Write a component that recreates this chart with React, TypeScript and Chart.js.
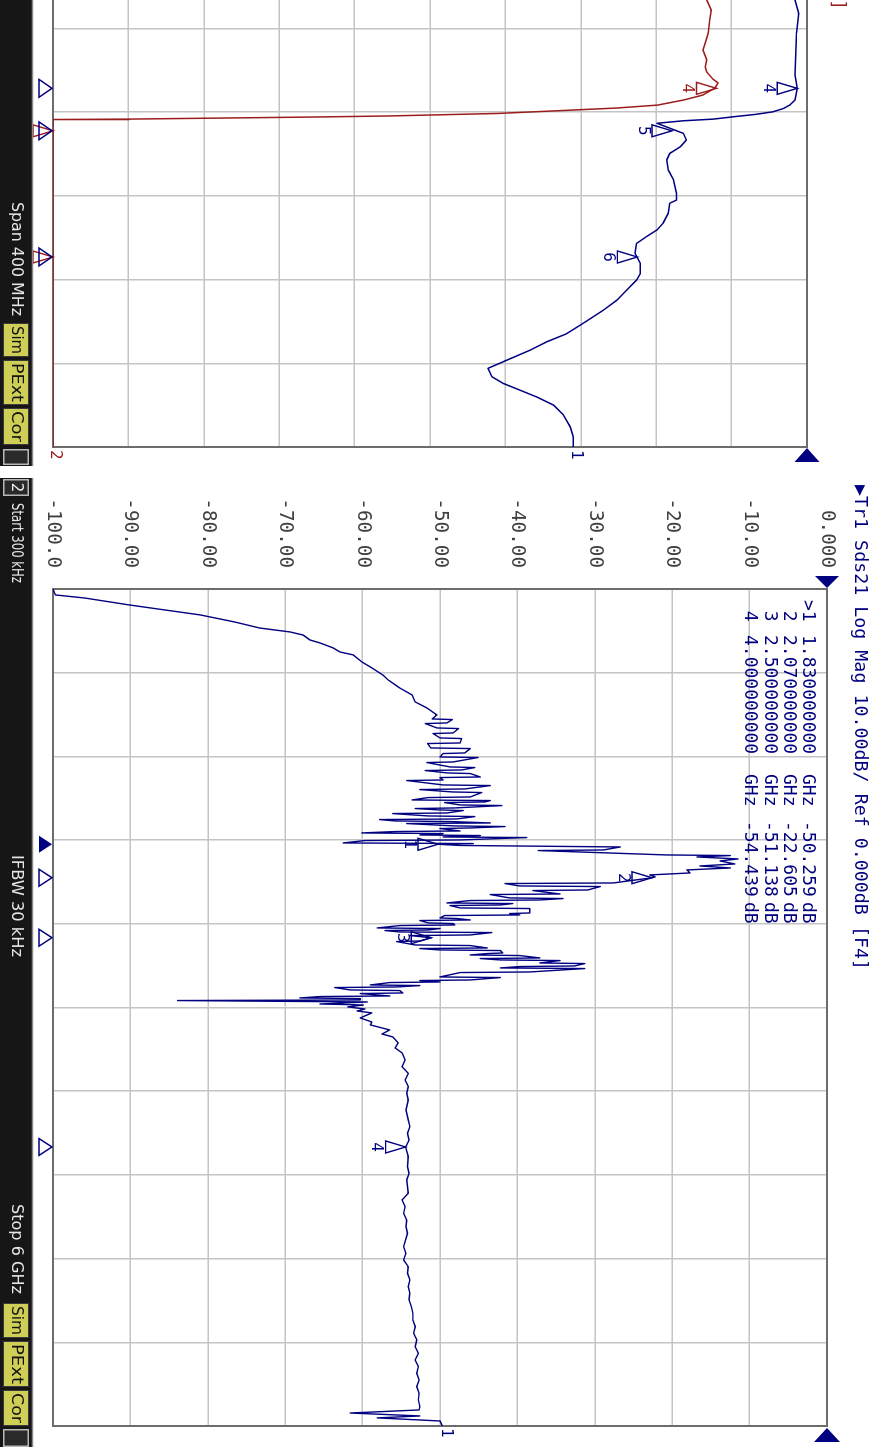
import React, { useEffect, useRef } from 'react';
import { Chart, registerables } from 'chart.js';
Chart.register(...registerables);

const MONO = "'DejaVu Sans Mono', monospace";
const SANS = "'DejaVu Sans', sans-serif";
const NAVY = '#000080';
const RED = '#9b1c1c';
const GRID = '#c4c4c4';
const FRAME = '#6c6c6c';

// ---------- main window: Tr1 Sds21, 300 kHz .. 6 GHz ----------
const mainStartGHz = 0.0003;
const mainStopGHz = 6;
const mainFreqGHz = [
  0.0003, 0.043, 0.065, 0.115, 0.151, 0.186, 0.237, 0.280, 0.308, 0.330, 0.366, 0.387, 0.423, 0.452, 0.473, 0.523, 0.566, 0.616, 0.652, 0.710, 0.760, 0.810, 0.853, 0.903,
  0.9319, 0.9362, 0.9605, 0.9648, 0.9964, 1.0007, 1.0322, 1.0365, 1.0680, 1.0723, 1.1039, 1.1082, 1.1397, 1.1440, 1.1756, 1.1799, 1.2042, 1.2085, 1.2401, 1.2444,
  1.2759, 1.2802, 1.2974, 1.3017, 1.3189, 1.3232, 1.3476, 1.3519, 1.3691, 1.3734, 1.4049, 1.4092, 1.4336, 1.4379, 1.4551, 1.4594, 1.4910, 1.4953, 1.5125, 1.5168,
  1.5268, 1.5311, 1.5483, 1.5526, 1.5698, 1.5741, 1.5842, 1.5885, 1.6057, 1.6100, 1.6272, 1.6315, 1.6487, 1.6530, 1.6630, 1.6673, 1.6773, 1.6816, 1.6988, 1.7031,
  1.7132, 1.7175, 1.7347, 1.7390, 1.7490, 1.7533, 1.7634, 1.7677, 1.7777, 1.7820, 1.7992, 1.8035, 1.8207, 1.8250, 1.830,
  1.8386, 1.8494, 1.8709, 1.8752, 1.9067, 1.9110, 1.9211, 1.9354, 1.9497, 1.9712, 1.9856, 1.9999, 2.0142, 2.0357, 2.0500, 2.0644, 2.070,
  2.1074, 2.1117, 2.1289, 2.1332, 2.1576, 2.1619, 2.1863, 2.1906, 2.2149, 2.2192, 2.2293, 2.2336, 2.2508, 2.2551, 2.2651, 2.2694, 2.2866, 2.2909, 2.3225, 2.3268,
  2.3368, 2.3411, 2.3583, 2.3626, 2.3726, 2.3769, 2.3941, 2.3984, 2.4085, 2.4128, 2.4300, 2.4343, 2.4443, 2.4486, 2.4587, 2.4630, 2.4802, 2.4845, 2.500,
  2.5232, 2.5275, 2.5518, 2.5561, 2.5733, 2.5776, 2.5877, 2.5920, 2.6092, 2.6135, 2.6235, 2.6278, 2.6450, 2.6493, 2.6594, 2.6637, 2.6809, 2.6852, 2.7024, 2.7067, 2.7167, 2.7210,
  2.7454, 2.7497, 2.7812, 2.7855, 2.8027, 2.8070, 2.8171, 2.8214, 2.8386, 2.8429, 2.8529, 2.8572, 2.8744, 2.8787, 2.8959, 2.9002, 2.9174, 2.9217, 2.9318, 2.9361, 2.9461, 2.9504,
  2.9604, 2.975, 2.982, 2.996, 3.011, 3.025, 3.039, 3.075, 3.104, 3.125, 3.161, 3.190, 3.211, 3.254, 3.290, 3.326,
  3.376, 3.424, 3.472, 3.520, 3.568, 3.615, 3.663, 3.735, 3.806, 3.854, 3.902, 3.950, 4.000, 4.069, 4.141, 4.188, 4.236, 4.332, 4.380, 4.428, 4.475, 4.523, 4.571, 4.619, 4.714, 4.762, 4.810, 4.858, 4.905, 4.953,
  5.001, 5.049, 5.097, 5.145, 5.192, 5.240, 5.288, 5.335, 5.383, 5.431, 5.479, 5.527, 5.574, 5.622, 5.670, 5.718, 5.766, 5.813, 5.861, 5.885, 5.907, 5.928, 5.942, 5.964, 6.000,
];
const mainDb = [
  -100, -99.7, -95.9, -90.1, -85.5, -81.0, -76.5, -73.3, -69.4, -67.7, -66.8, -65.5, -63.8, -62.9, -61.2, -60.1, -58.8, -57.4, -56.7, -55.2, -53.6, -53.2, -51.7, -50.4,
  -51.0, -48.4, -49.1, -51.9, -50.4, -47.6, -48.3, -50.9, -50.0, -47.2, -47.4, -51.6, -51.2, -46.1, -46.8, -49.6, -50.0, -45.1, -48.3, -51.7,
  -48.7, -45.5, -47.2, -51.9, -49.0, -46.1, -44.8, -50.0, -49.6, -54.3, -49.6, -43.5, -46.8, -52.6, -48.4, -44.6, -46.1, -51.5, -53.6, -43.5,
  -44.2, -49.4, -47.4, -42.0, -48.1, -53.2, -50.0, -47.0, -49.1, -56.1, -51.5, -45.5, -47.8, -57.8, -55.8, -48.7, -43.5, -54.3, -48.1, -41.6,
  -46.1, -50.0, -47.4, -55.8, -60.1, -49.6, -52.6, -44.8, -49.6, -38.8, -47.4, -59.7, -62.5, -45.7, -50.259,
  -47.4, -26.7, -28.9, -37.3, -20.7, -12.5, -16.8, -11.5, -13.8, -11.9, -16.4, -12.5, -18.1, -17.7, -22.9, -22.2, -22.605,
  -27.6, -41.6, -39.7, -29.3, -30.9, -38.0, -34.5, -43.5, -41.0, -34.1, -37.1, -46.1, -49.1, -40.6, -42.2, -48.7, -47.4, -38.4, -38.4, -41.0,
  -39.7, -49.4, -50.0, -47.8, -46.1, -52.6, -51.5, -48.3, -48.1, -55.2, -58.1, -50.0, -51.5, -57.1, -55.2, -43.3, -46.1, -53.9, -51.138,
  -52.6, -55.6, -53.2, -46.1, -43.9, -52.6, -50.0, -42.2, -41.9, -43.9, -46.1, -39.7, -37.1, -44.8, -42.2, -34.5, -37.1, -31.3, -32.6, -39.7, -42.2, -31.3,
  -38.4, -47.4, -50.0, -42.2, -46.1, -52.6, -50.0, -56.5, -59.0, -52.6, -55.6, -63.6, -61.6, -55.2, -54.8, -60.3, -56.5, -65.5, -68.1, -60.3, -60.3, -83.9,
  -59.4, -65.5, -59.9, -61.9, -59.7, -60.7, -58.8, -60.3, -58.8, -59.0, -56.5, -57.5, -56.1, -55.4, -55.8, -54.9,
  -54.5, -54.9, -54.1, -54.5, -54.1, -54.3, -54.1, -54.4, -54.1, -53.9, -54.2, -54.0, -54.439, -54.1, -54.2, -54.0, -54.3, -54.1, -54.9, -54.5, -54.7, -54.3, -54.4, -54.2, -54.7, -54.4, -54.7, -54.1, -54.2, -53.9,
  -54.1, -53.9, -54.0, -53.7, -53.5, -53.5, -53.2, -53.4, -53.0, -53.2, -52.8, -53.2, -52.8, -53.0, -52.7, -53.0, -52.7, -52.8, -52.6, -52.7, -61.6, -52.6, -58.1, -50.0, -49.7,
];
const mainMarkerId = ['1', '2', '3', '4'];
const mainMarkerGHz = [1.83, 2.07, 2.5, 4.0];
const mainMarkerDb = [-50.259, -22.605, -51.138, -54.439];
const mainMarkerFreqText = ['1.830000000', '2.070000000', '2.500000000', '4.000000000'];
const mainMarkerDbText = ['-50.259', '-22.605', '-51.138', '-54.439'];
const mainTitle = '\u25B6Tr1 Sds21 Log Mag 10.00dB/ Ref 0.000dB [F4]';

const dbTicks = [0, -10, -20, -30, -40, -50, -60, -70, -80, -90, -100];
const dbTickLabels = ['0.000', '-10.00', '-20.00', '-30.00', '-40.00', '-50.00', '-60.00', '-70.00', '-80.00', '-90.00', '-100.0'];

// ---------- upper window (partly visible): span 400 MHz ----------
const topStartMHz = 1800;
const topStopMHz = 2200;
const topBlueMHz = [1975, 1986.4, 1992.8, 2002.3, 2022.2, 2028.6, 2034.2, 2036.6, 2038.2, 2039.8, 2041.0, 2042.2, 2043.3, 2044.1, 2045.3, 2050.1, 2053.3, 2056.5, 2059.7, 2062.8, 2067.6, 2072.4, 2078.8, 2082.0, 2083.5, 2088.3, 2093.1, 2096.3, 2099.5, 2102.7, 2107.5, 2112.3, 2117.1, 2120.2, 2125.0, 2129.8, 2134.6, 2140.9, 2145.9, 2149.7, 2153.7, 2158.5, 2162.4, 2166.4, 2169.6, 2172.8, 2176.0, 2180.0, 2184.7, 2190.4, 2195.1, 2200];
const topBlueDb = [-1.5, -1.6, -1.1, -1.4, -1.6, -1.3, -1.6, -2.3, -3.1, -4.5, -6.7, -9.8, -12.4, -16.4, -19.9, -16.4, -16.0, -16.8, -18.2, -18.6, -18.4, -17.7, -17.3, -17.3, -18.2, -18.4, -19.1, -19.9, -21.3, -22.6, -22.8, -22.1, -22.1, -22.6, -23.9, -25.2, -27.0, -29.7, -31.9, -34.5, -36.7, -39.8, -42.3, -41.8, -40.3, -38.1, -35.9, -33.6, -32.3, -31.4, -31.0, -31.0];
const topRedMHz = [1975, 1986.4, 1991.2, 1995.9, 2002.2, 2006.9, 2010.3, 2015.0, 2018.4, 2020.8, 2024.1, 2026.0, 2028.4, 2031.8, 2034.2, 2036.6, 2038.0, 2039.0, 2040.6, 2041.8, 2042.3, 2043.3, 2043.5, 2200];
const topRedDb = [-13.0, -13.3, -12.7, -12.9, -13.1, -13.5, -13.8, -13.3, -13.5, -13.3, -12.5, -11.8, -12.2, -13.8, -16.4, -19.8, -25.2, -31.2, -41.0, -55.4, -65.3, -89.9, -100, -100];
const topMarkerId = ['4', '5', '6'];
const topMarkerMHz = [2028.6, 2048.9, 2109.2];
const topBlueMarkerDb = [-1.3, -17.9, -22.5];
const topRedMarkerDb = [-12.0, -100, -100];
const topRedTitle = 'Tr2 S11 Log Mag 10.00dB/ Ref 0.000dB [F4]';

// ---------- drawing helpers ----------
function triangle(ctx: any, tx: number, ty: number, dir: string, len: number, half: number, filled: boolean, color: string, lw = 1.4) {
  ctx.save();
  ctx.beginPath();
  if (dir === 'up') { ctx.moveTo(tx, ty); ctx.lineTo(tx - half, ty + len); ctx.lineTo(tx + half, ty + len); }
  if (dir === 'right') { ctx.moveTo(tx, ty); ctx.lineTo(tx - len, ty - half); ctx.lineTo(tx - len, ty + half); }
  if (dir === 'left') { ctx.moveTo(tx, ty); ctx.lineTo(tx + len, ty - half); ctx.lineTo(tx + len, ty + half); }
  ctx.closePath();
  if (filled) { ctx.fillStyle = color; ctx.fill(); }
  else { ctx.strokeStyle = color; ctx.lineWidth = lw; ctx.lineJoin = 'miter'; ctx.stroke(); }
  ctx.restore();
}

function fitText(ctx: any, text: string, x: number, yMid: number, w: number, font: string, color: string) {
  ctx.save();
  ctx.font = font;
  ctx.fillStyle = color;
  ctx.textBaseline = 'middle';
  ctx.textAlign = 'left';
  const m = ctx.measureText(text).width;
  ctx.translate(x, yMid);
  ctx.scale(w / m, 1);
  ctx.fillText(text, 0, 0);
  ctx.restore();
}

function text(ctx: any, s: string, x: number, y: number, color: string, font: string, align = 'left') {
  ctx.save();
  ctx.font = font;
  ctx.fillStyle = color;
  ctx.textBaseline = 'middle';
  ctx.textAlign = align;
  ctx.fillText(s, x, y);
  ctx.restore();
}

const BAR_TOP = 847;
const BAR_BOTTOM = 879;
function statusBar(ctx: any, x0: number, x1: number, items: any[]) {
  ctx.save();
  ctx.fillStyle = '#161616';
  ctx.fillRect(x0, BAR_TOP, x1 - x0, BAR_BOTTOM - BAR_TOP);
  ctx.strokeStyle = '#8a8a8a';
  ctx.lineWidth = 1.5;
  ctx.beginPath();
  ctx.moveTo(x0, BAR_TOP - 0.5);
  ctx.lineTo(x1, BAR_TOP - 0.5);
  ctx.stroke();
  const mid = (BAR_TOP + BAR_BOTTOM) / 2;
  for (const it of items) {
    if (it.kind === 'text') {
      fitText(ctx, it.text, it.x, mid, it.w, `16px ${SANS}`, '#e6e6e6');
    } else if (it.kind === 'yellow') {
      ctx.fillStyle = '#cfcf57';
      ctx.fillRect(it.x, BAR_TOP + 3, it.w, 26);
      ctx.strokeStyle = '#3a3a3a';
      ctx.lineWidth = 1;
      ctx.strokeRect(it.x + 0.5, BAR_TOP + 3.5, it.w - 1, 25);
      fitText(ctx, it.text, it.x + 3, mid, it.w - 6, `16px ${SANS}`, '#111');
    } else if (it.kind === 'box') {
      ctx.fillStyle = '#2a2a2a';
      ctx.fillRect(it.x, BAR_TOP + 3, it.w, 26);
      ctx.strokeStyle = '#b8b8b8';
      ctx.lineWidth = 1.5;
      ctx.strokeRect(it.x + 0.75, BAR_TOP + 3.75, it.w - 1.5, 24.5);
      if (it.text) text(ctx, it.text, it.x + it.w / 2, mid, '#eeeeee', `15px ${SANS}`, 'center');
    }
  }
  ctx.restore();
}

function drawFrame(chart: any) {
  const { ctx, chartArea: a } = chart;
  ctx.save();
  ctx.strokeStyle = FRAME;
  ctx.lineWidth = 2;
  ctx.strokeRect(a.left, a.top, a.right - a.left, a.bottom - a.top);
  ctx.restore();
}

function traceMarker(ctx: any, px: number, py: number, label: string, color: string) {
  triangle(ctx, px, py, 'up', 20, 6, false, color, 1.4);
  text(ctx, label, px, py + 29, color, `16px ${MONO}`, 'center');
}

function gridScale(min: number, max: number) {
  return (scale: any) => {
    const vals = [];
    for (let i = 0; i <= 10; i++) vals.push({ value: min + ((max - min) * i) / 10 });
    scale.ticks = vals;
  };
}

function baseOptions(xMin: number, xMax: number, yAxisWidth: number, padding: any, showLabels: boolean) {
  return {
    animation: false,
    responsive: false,
    devicePixelRatio: 1,
    layout: { padding },
    plugins: { legend: { display: false }, tooltip: { enabled: false }, title: { display: false } },
    elements: { point: { radius: 0 } },
    scales: {
      x: {
        type: 'linear', min: xMin, max: xMax,
        afterBuildTicks: gridScale(xMin, xMax),
        afterFit: (s: any) => { s.height = 0; },
        ticks: { display: false },
        grid: { color: GRID, lineWidth: 1.5, drawTicks: false },
        border: { display: false },
      },
      y: {
        type: 'linear', min: -100, max: 0,
        afterBuildTicks: (s: any) => { s.ticks = dbTicks.map((v) => ({ value: v })); },
        afterFit: (s: any) => { s.width = yAxisWidth; },
        ticks: {
          display: showLabels,
          padding: 21,
          color: '#404040',
          font: { family: MONO, size: 19.3 },
          callback: (v: number) => dbTickLabels[dbTicks.indexOf(v)] ?? '',
        },
        grid: { color: GRID, lineWidth: 1.5, drawTicks: false },
        border: { display: false },
      },
    },
  };
}

function pairs(xs: number[], ys: number[]) {
  const n = Math.min(xs.length, ys.length);
  const out = [];
  for (let i = 0; i < n; i++) out.push({ x: xs[i], y: ys[i] });
  return out;
}

function makeMain(canvas: HTMLCanvasElement) {
  const data = pairs(mainFreqGHz, mainDb);
  const overlay = {
    id: 'mainOverlay',
    beforeDatasetsDraw: (chart: any) => drawFrame(chart),
    afterDraw: (chart: any) => {
      const { ctx, chartArea: a, scales } = chart;
      const xs = scales.x, ys = scales.y;
      const font = `18px ${MONO}`;
      // title
      fitText(ctx, mainTitle, 7, 19, 485, font, NAVY);
      // reference level arrows
      const y0 = ys.getPixelForValue(0);
      triangle(ctx, a.left - 1, y0, 'right', 12, 12, true, NAVY);
      triangle(ctx, a.right + 2, y0, 'left', 14, 13, true, NAVY);
      // marker table
      for (let i = 0; i < mainMarkerId.length; i++) {
        const ry = 71 + i * 19.3;
        text(ctx, (i === 0 ? '>' : ' ') + mainMarkerId[i], 122, ry, NAVY, font);
        text(ctx, mainMarkerFreqText[i], 157, ry, NAVY, font);
        text(ctx, 'GHz', 296, ry, NAVY, font);
        text(ctx, mainMarkerDbText[i], 343, ry, NAVY, font);
        text(ctx, 'dB', 424, ry, NAVY, font);
      }
      // markers on trace
      for (let i = 0; i < mainMarkerId.length; i++) {
        const px = xs.getPixelForValue(mainMarkerGHz[i]);
        const py = ys.getPixelForValue(mainMarkerDb[i]);
        traceMarker(ctx, px, py, mainMarkerId[i], NAVY);
      }
      // stimulus-axis marker arrows
      for (let i = 0; i < mainMarkerId.length; i++) {
        const px = xs.getPixelForValue(mainMarkerGHz[i]);
        triangle(ctx, px, a.bottom + 1, 'up', 13, 8.5, i === 0, NAVY, 1.4);
      }
      // trace end label
      const lastY = ys.getPixelForValue(mainDb[mainDb.length - 1]);
      text(ctx, '1', a.right + 2, lastY - 4, NAVY, `16px ${MONO}`);
      // status bar
      statusBar(ctx, 0, 969, [
        { kind: 'box', text: '2', x: 1, w: 17 },
        { kind: 'text', text: 'Start 300 kHz', x: 25, w: 80 },
        { kind: 'text', text: 'IFBW 30 kHz', x: 377, w: 102 },
        { kind: 'text', text: 'Stop 6 GHz', x: 726, w: 90 },
        { kind: 'yellow', text: 'Sim', x: 825, w: 35 },
        { kind: 'yellow', text: 'PExt', x: 863, w: 46 },
        { kind: 'yellow', text: 'Cor', x: 912, w: 36 },
        { kind: 'box', text: '', x: 951, w: 18 },
      ]);
    },
  };
  return new Chart(canvas, {
    type: 'line',
    data: {
      datasets: [{
        data, borderColor: NAVY, borderWidth: 1.4, pointRadius: 0, tension: 0, fill: false,
        borderJoinStyle: 'round',
      }],
    },
    options: baseOptions(mainStartGHz, mainStopGHz, 111, { left: 0, right: 21, top: 52, bottom: 53 }, true) as any,
    plugins: [overlay],
  } as any);
}

function makeTop(canvas: HTMLCanvasElement) {
  const blue = pairs(topBlueMHz, topBlueDb);
  const red = pairs(topRedMHz, topRedDb);
  const overlay = {
    id: 'topOverlay',
    beforeDatasetsDraw: (chart: any) => drawFrame(chart),
    afterDraw: (chart: any) => {
      const { ctx, chartArea: a, scales } = chart;
      const xs = scales.x, ys = scales.y;
      const font = `18px ${MONO}`;
      // second trace title (only its end is inside the window)
      text(ctx, topRedTitle, 440, 41, RED, font, 'right');
      // reference arrow
      triangle(ctx, a.right + 1, ys.getPixelForValue(0), 'left', 14, 12.5, true, NAVY);
      // markers
      for (let i = 0; i < topMarkerId.length; i++) {
        const px = xs.getPixelForValue(topMarkerMHz[i]);
        traceMarker(ctx, px, ys.getPixelForValue(topRedMarkerDb[i]), topMarkerId[i], RED);
        traceMarker(ctx, px, ys.getPixelForValue(topBlueMarkerDb[i]), topMarkerId[i], NAVY);
      }
      for (let i = 0; i < topMarkerId.length; i++) {
        const px = xs.getPixelForValue(topMarkerMHz[i]);
        triangle(ctx, px, a.bottom + 1, 'up', 13, 9, false, NAVY, 1.4);
      }
      // trace end labels
      text(ctx, '1', a.right + 3, ys.getPixelForValue(topBlueDb[topBlueDb.length - 1]) - 3, NAVY, `16px ${MONO}`);
      text(ctx, '2', a.right + 3, ys.getPixelForValue(-100) - 2, RED, `16px ${MONO}`);
      // status bar
      statusBar(ctx, 430, 896, [
        { kind: 'text', text: 'Span 400 MHz', x: 632, w: 114 },
        { kind: 'yellow', text: 'Sim', x: 753, w: 34 },
        { kind: 'yellow', text: 'PExt', x: 790, w: 45 },
        { kind: 'yellow', text: 'Cor', x: 838, w: 37 },
        { kind: 'box', text: '', x: 879, w: 16 },
      ]);
    },
  };
  return new Chart(canvas, {
    type: 'line',
    data: {
      datasets: [
        { data: red, borderColor: RED, borderWidth: 1.5, pointRadius: 0, tension: 0, fill: false, borderJoinStyle: 'round' },
        { data: blue, borderColor: NAVY, borderWidth: 1.5, pointRadius: 0, tension: 0, fill: false, borderJoinStyle: 'round' },
      ],
    },
    options: baseOptions(topStartMHz, topStopMHz, 40, { left: 0, right: 23, top: 72, bottom: 53 }, false) as any,
    plugins: [overlay],
  } as any);
}

export default function App() {
  const topRef = useRef<HTMLCanvasElement>(null);
  const mainRef = useRef<HTMLCanvasElement>(null);
  useEffect(() => {
    const charts = [makeTop(topRef.current!), makeMain(mainRef.current!)];
    return () => charts.forEach((c) => c.destroy());
  }, []);
  return (
    <div style={{ position: 'fixed', left: 0, top: 0, width: 879, height: 1447, overflow: 'hidden', background: '#fff' }}>
      <div
        style={{
          position: 'absolute', left: 0, top: 0, width: 1447, height: 879, overflow: 'hidden',
          transformOrigin: '0 0', transform: 'translate(879px, 0) rotate(90deg)', background: '#fff',
        }}
      >
        <canvas ref={topRef} width={900} height={879} style={{ position: 'absolute', left: -430, top: 0, width: 900, height: 879 }} />
        <canvas ref={mainRef} width={969} height={879} style={{ position: 'absolute', left: 478, top: 0, width: 969, height: 879 }} />
      </div>
    </div>
  );
}
